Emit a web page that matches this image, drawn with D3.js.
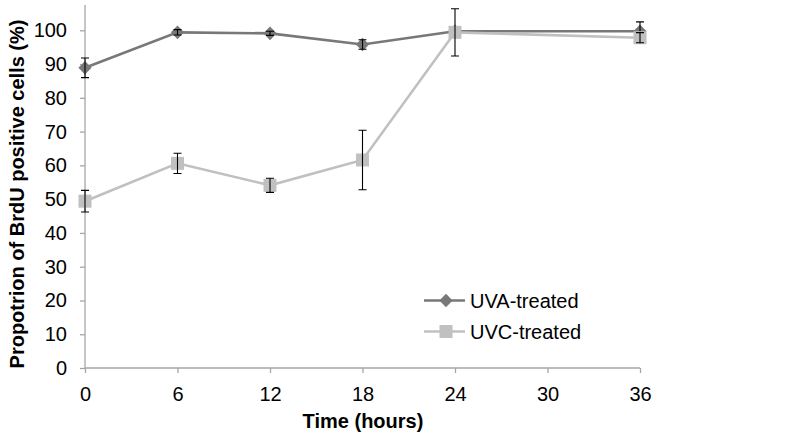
<!DOCTYPE html>
<html><head><meta charset="utf-8">
<script src="https://cdn.jsdelivr.net/npm/d3@7"></script>
<style>body{margin:0;background:#fff}svg{display:block}text{font-family:"Liberation Sans",Arial,sans-serif}</style>
</head><body>
<svg id="c" width="795" height="442"></svg>
<script>
const hours = [0, 6, 12, 18, 24, 36];
const uva = [88.9, 99.4, 99.1, 95.8, 99.7, 99.7];
const uvaErr = [2.9, 0.8, 0.6, 1.4, 0.5, 2.8];
const uvc = [49.4, 60.6, 54.1, 61.6, 99.4, 97.8];
const uvcErr = [3.2, 3.0, 2.1, 8.8, 7.0, 1.5];
const xTicks = [0, 6, 12, 18, 24, 30, 36];
const yTicks = [0, 10, 20, 30, 40, 50, 60, 70, 80, 90, 100];
const seriesNames = ["UVA-treated", "UVC-treated"];

const svg = d3.select("#c");
const x = d3.scaleLinear().domain([0, 36]).range([85, 640]);
const y = d3.scaleLinear().domain([0, 100]).range([368, 30.3]);
const axisCol = "#a6a6a6";
const FS = 20;

// axes
const gy = svg.append("g").attr("transform", "translate(85,0)")
  .call(d3.axisLeft(y).tickValues(yTicks).tickSize(5).tickPadding(13));
gy.select(".domain").remove();
gy.append("line").attr("x1", 0).attr("x2", 0).attr("y1", 5).attr("y2", 368).attr("stroke", axisCol).attr("stroke-width", 1.3);
const gx = svg.append("g").attr("transform", "translate(0,368)")
  .call(d3.axisBottom(x).tickValues(xTicks).tickSize(5).tickPadding(8));
gx.select(".domain").attr("stroke", axisCol).attr("stroke-width", 1.3).attr("d", "M85,0H640");
svg.selectAll(".tick line").attr("stroke", axisCol).attr("stroke-width", 1.3);
gy.attr("font-size", FS).attr("font-family", null);
gx.attr("font-size", FS).attr("font-family", null);
svg.selectAll(".tick text").attr("fill", "#000");
gx.selectAll(".tick text").attr("y", 0).attr("dy", null).attr("transform", "translate(0,32.5)");

// titles
svg.append("text").attr("x", 363).attr("y", 428).attr("text-anchor", "middle")
  .attr("font-size", FS).attr("font-weight", "bold").text("Time (hours)");
svg.append("text").attr("transform", "translate(24,194) rotate(-90)").attr("text-anchor", "middle")
  .attr("font-size", FS).attr("font-weight", "bold").text("Propotrion of BrdU positive cells (%)");

const line = d3.line().x(d => x(d[0])).y(d => y(d[1]));
const diamond = "M0,-6.8L6.6,0L0,6.8L-6.6,0Z";
const square = "M-6.5,-6.5H6.5V6.5H-6.5Z";
const series = [
  {vals: uva, err: uvaErr, color: "#787878", shape: diamond},
  {vals: uvc, err: uvcErr, color: "#c0c0c0", shape: square}
];

// lines
series.forEach(s => {
  svg.append("path").datum(hours.map((h, i) => [h, s.vals[i]]))
    .attr("d", line).attr("fill", "none").attr("stroke", s.color).attr("stroke-width", 2.6);
});
// markers and error bars
series.forEach(s => {
  const g = svg.append("g");
  hours.forEach((h, i) => {
    const cx = x(h), t = y(s.vals[i] + s.err[i]), b = y(s.vals[i] - s.err[i]);
    g.append("path").attr("transform", `translate(${cx},${y(s.vals[i])})`)
      .attr("d", s.shape).attr("fill", s.color);
    g.append("path").attr("d", `M${cx},${t}V${b}M${cx-4},${t}H${cx+4}M${cx-4},${b}H${cx+4}`)
      .attr("stroke", "#000").attr("stroke-width", 1.1).attr("fill", "none");
  });
});

// legend
series.forEach((s, i) => {
  const ly = 300.5 + i * 31;
  svg.append("line").attr("x1", 424).attr("x2", 465).attr("y1", ly).attr("y2", ly)
    .attr("stroke", s.color).attr("stroke-width", 2.6);
  svg.append("path").attr("transform", `translate(446,${ly})`)
    .attr("d", s.shape).attr("fill", s.color);
  svg.append("text").attr("x", 470).attr("y", ly).attr("dy", "0.36em")
    .attr("font-size", FS).text(seriesNames[i]);
});
</script>
</body></html>
